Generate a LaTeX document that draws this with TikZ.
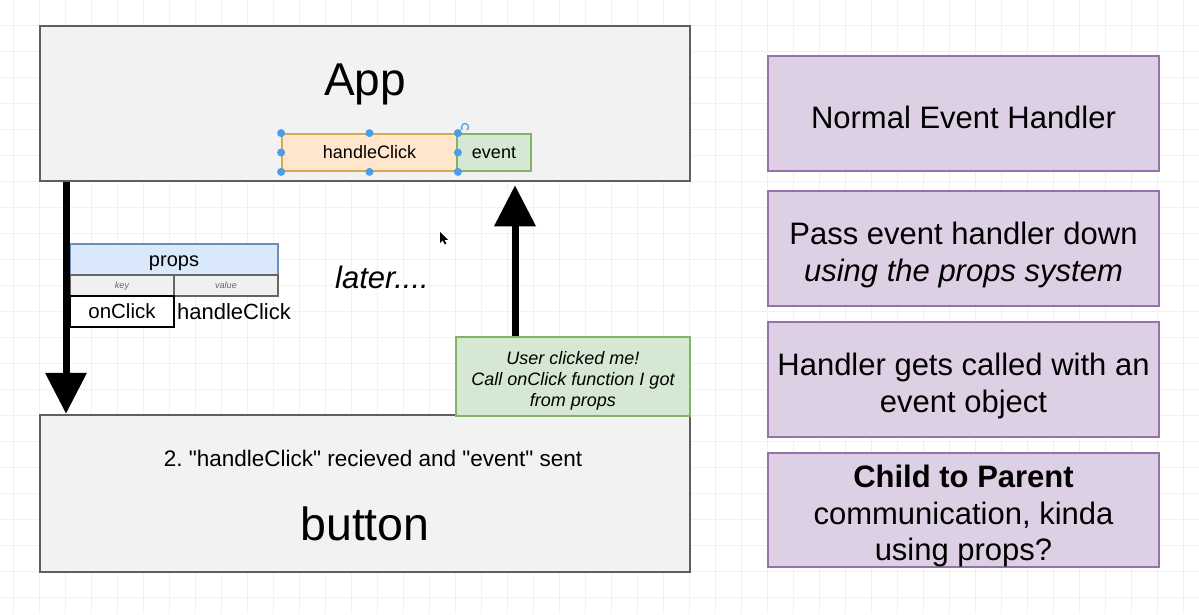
\documentclass[tikz,border=0pt]{standalone}
\usepackage{fontspec}
\setmainfont{Liberation Sans}[Ligatures=TeXOff]
\usetikzlibrary{arrows.meta}
\frenchspacing
\newcommand{\linestrut}{\vrule width 0pt height 0.905em depth 0.212em\relax}
\definecolor{gridc}{HTML}{F1F1F1}
\definecolor{boxfill}{HTML}{F2F2F2}
\definecolor{boxdraw}{HTML}{5F5F5F}
\definecolor{peachfill}{HTML}{FFE6CC}
\definecolor{peachdraw}{HTML}{D6A94E}
\definecolor{greenfill}{HTML}{D5E8D4}
\definecolor{greendraw}{HTML}{82B366}
\definecolor{bluefill}{HTML}{DAE8FC}
\definecolor{bluedraw}{HTML}{6C8EBF}
\definecolor{purplefill}{HTML}{DDD0E4}
\definecolor{purpledraw}{HTML}{9673A6}
\definecolor{handleblue}{HTML}{4A9DE8}
\definecolor{cellfill}{HTML}{F0F0F0}
\definecolor{celldraw}{HTML}{666666}
\tikzset{
  fs/.style={font=\fontsize{#1}{#1}\selectfont},
  lineup/.style={execute at begin node=\linestrut},
  bigbox/.style={draw=boxdraw, fill=boxfill, line width=2.5pt, minimum width=650pt, inner sep=0pt},
  sidebox/.style={draw=purpledraw, fill=purplefill, line width=2pt, minimum width=391pt, minimum height=115pt, inner sep=0pt},
  sidetext/.style={align=center, inner sep=0pt, font=\fontsize{31}{36.5}\selectfont},
  bigarrow/.style={line width=7pt, -{Triangle[width=40pt,length=41pt]}},
  selhandle/.style={circle, fill=handleblue, inner sep=0pt, minimum size=8pt},
  plain/.style={inner sep=0pt, lineup},
  cell/.style={inner sep=0pt, lineup},
}
\begin{document}
\begin{tikzpicture}[x=1pt,y=-1pt]
\useasboundingbox (0,0) rectangle (1199,614);
\fill[white] (0,0) rectangle (1199,614);
% grid
\foreach \gx in {13,39,...,1199} \draw[gridc, line width=1pt] (\gx,0) -- (\gx,614);
\foreach \gy in {25,51,...,614} \draw[gridc, line width=1pt] (0,\gy) -- (1199,\gy);

% main boxes
\node[bigbox, minimum height=155pt] (app) at (365,103.5) {};
\node[plain, fs=46] (applabel) at (365,80) {App};
\node[bigbox, minimum height=157pt] (button) at (365,493.5) {};
\node[plain, fs=22.5] (btnnote) at (373,459) {2. "handleClick" recieved and "event" sent};
\node[plain, fs=46.5] (btnlabel) at (365,524) {button};

% handleClick / event inside App
\node[cell, draw=peachdraw, fill=peachfill, line width=1.8pt, minimum width=175pt, minimum height=37pt, fs=18] (hc) at (369.5,152.5) {handleClick};
\node[cell, draw=greendraw, fill=greenfill, line width=2pt, minimum width=74pt, minimum height=37pt, fs=18] (ev) at (494,152.5) {event};
\foreach \a in {north west,north,north east,west,east,south west,south,south east}
  \node[selhandle] at (hc.\a) {};
\coordinate (rot) at (465,127);
\draw[handleblue, line width=1.2pt, -{Stealth[length=2.5pt,width=3pt]}] ([shift={(60:3.5)}]rot) arc[start angle=60, end angle=-230, radius=3.5];

% props table
\node[cell, draw=bluedraw, fill=bluefill, line width=1.5pt, minimum width=208pt, minimum height=31pt, fs=20] (props) at (174,259.5) {props};
\node[cell, draw=celldraw, fill=cellfill, line width=1.5pt, minimum width=104pt, minimum height=21pt, text=celldraw, font=\itshape\fontsize{9}{11}\selectfont] (key) at (122,285.5) {key};
\node[cell, draw=celldraw, fill=cellfill, line width=1.5pt, minimum width=104pt, minimum height=21pt, text=celldraw, font=\itshape\fontsize{9}{11}\selectfont] (val) at (226,285.5) {value};
\node[cell, draw=black, fill=white, line width=2pt, minimum width=104pt, minimum height=31pt, fs=20.5] (onclick) at (122,311.5) {onClick};
\node[plain, fs=22] (hcval) at (234,312) {handleClick};

% later
\node[plain, font=\itshape\fontsize{31}{31}\selectfont] (later) at (382,278) {later....};

% green note
\node[draw=greendraw, fill=greenfill, line width=2pt, minimum width=234pt, minimum height=79pt, inner sep=0pt] (note) at (573,376.5) {};
\node[inner sep=0pt, align=center, font=\itshape\fontsize{18}{21}\selectfont] (notetext) at ([shift={(0,4)}]note.center) {User clicked me!\\Call onClick function I got\\from props};

% arrows
\coordinate (lx) at (66,0);
\coordinate (ux) at (515,0);
\draw[bigarrow] (app.south -| lx) -- (button.north -| lx);
\draw[bigarrow, shorten >=3pt] (note.north -| ux) -- (app.south -| ux);

% cursor
\coordinate (cur) at (440,232);
\fill[black] (cur) -- ++(0,11) -- ++(2.6,-2.6) -- ++(2.2,4) -- ++(1.6,-0.8) -- ++(-2.1,-3.8) -- ++(3.6,0) -- cycle;

% side boxes
\node[sidebox] (s1) at (963.5,113.5) {};
\node[sidetext] (t1) at ([shift={(0,4)}]s1.center) {Normal Event Handler};
\node[sidebox] (s2) at (963.5,248.5) {};
\node[sidetext] (t2) at ([shift={(0,6.5)}]s2.center) {Pass event handler down\\\itshape using the props system};
\node[sidebox] (s3) at (963.5,379.5) {};
\node[sidetext] (t3) at ([shift={(0,6.5)}]s3.center) {Handler gets called with an\\event object};
\node[sidebox, minimum height=114pt] (s4) at (963.5,510) {};
\node[sidetext] (t4) at ([shift={(0,6)}]s4.center) {\textbf{Child to Parent}\\communication, kinda\\using props?};
\end{tikzpicture}
\end{document}
